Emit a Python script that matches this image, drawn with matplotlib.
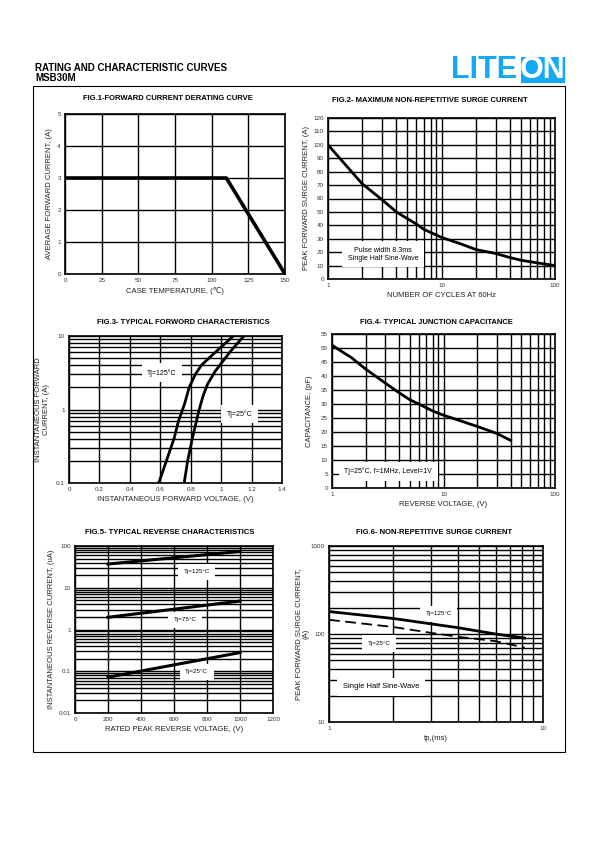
import numpy as np
import matplotlib.pyplot as plt
from matplotlib.patches import Rectangle
from matplotlib.ticker import NullFormatter, LogLocator

plt.rcParams['font.family'] = ['Liberation Sans', 'DejaVu Sans']

# Fig.1 derating
fig1_temp = [0, 110, 150]
fig1_current = [3.0, 3.0, 0.0]

# Fig.2 surge vs cycles
fig2_cycles = [1, 1.5, 2, 3, 4, 5, 6, 7, 10, 15, 20, 30, 40, 50, 70, 100]
fig2_current = [100, 83, 71, 59, 50, 45, 41, 37, 31, 26, 22, 19, 16, 14, 12, 10]

# Fig.3 forward characteristics
fig3_v125 = [0.59, 0.64, 0.69, 0.72, 0.76, 0.79, 0.83, 0.87, 0.92, 0.98, 1.08]
fig3_i125 = [0.1, 0.2, 0.4, 0.7, 1.2, 2.0, 3.0, 4.0, 5.0, 6.5, 10.0]
fig3_v25 = [0.757, 0.78, 0.81, 0.85, 0.88, 0.91, 0.96, 1.01, 1.07, 1.15]
fig3_i25 = [0.1, 0.2, 0.4, 0.9, 1.5, 2.2, 3.3, 4.5, 6.5, 10.0]

# Fig.4 junction capacitance
fig4_v = [1, 1.5, 2, 3, 4, 5, 6, 8, 10, 13, 20, 30, 40]
fig4_c = [51, 46.5, 42.5, 37.5, 34, 31.5, 30, 27.5, 26, 24.5, 22, 19.5, 17]

# Fig.5 reverse characteristics
fig5_v = [200, 1000]
fig5_i125 = [37, 74]
fig5_i75 = [1.96, 4.8]
fig5_i25 = [0.072, 0.28]

# Fig.6 non-repetitive surge current
fig6_tp = [1, 2, 4, 6, 8.2]
fig6_i125 = [180, 150, 118, 100, 90]
fig6_tp25 = [1, 2, 3, 4, 6, 8.2]
fig6_i25 = [145, 120, 103, 93, 83, 70]

W, H = 595, 842
fig = plt.figure(figsize=(W / 100, H / 100), dpi=100)


def px_axes(x0, y0, x1, y1):
    return fig.add_axes([x0 / W, 1 - y1 / H, (x1 - x0) / W, (y1 - y0) / H])


def ftext(x, y, s, **kw):
    fig.text(x / W, 1 - y / H, s, **kw)


def style(ax):
    ax.tick_params(which='both', length=0, labelsize=4.5, labelcolor='#333333', pad=3)
    for sp in ax.spines.values():
        sp.set_linewidth(1.2)
    ax.set_axisbelow(True)


def label(ax, x, y, s, fs=5):
    ax.text(x, y, s, fontsize=fs, ha='center', va='center', zorder=3,
            bbox=dict(facecolor='white', edgecolor='none', pad=4))


gkw = dict(color='black', linewidth=1.0)
lbl = dict(fontsize=5.5, color='#222222')

# header
ftext(35, 68, "RATING AND CHARACTERISTIC CURVES", fontsize=7, fontweight='bold', va='center')
ftext(35, 78, "MSB30M", fontsize=7, fontweight='bold', va='center')
fig.patches.append(Rectangle((521 / W, 1 - 83 / H), 44 / W, 26 / H, transform=fig.transFigure,
                             facecolor='#14a9f5', edgecolor='none'))
ftext(451, 70, "LITE", fontsize=22, fontweight='bold', color='#14a9f5', va='center')
ftext(543, 70, "ON", fontsize=22, fontweight='bold', color='white', va='center', ha='center')
fig.patches.append(Rectangle((33 / W, 1 - 752 / H), 532 / W, 666 / H, transform=fig.transFigure,
                             facecolor='none', edgecolor='black', linewidth=0.8))

# Fig.1
ax = px_axes(65, 114, 285, 274)
style(ax)
ax.plot(fig1_temp, fig1_current, color='black', linewidth=2.6, zorder=4)
ax.set_xlim(0, 150)
ax.set_ylim(0, 5)
ax.set_xticks([0, 25, 50, 75, 100, 125, 150])
ax.set_yticks([0, 1, 2, 3, 4, 5])
ax.grid(True, **gkw)
ax.set_xlabel("CASE TEMPERATURE, (℃)", labelpad=3, **lbl)
ax.set_ylabel("AVERAGE FORWARD CURRENT, (A)", **lbl)
ax.yaxis.set_label_coords(-0.055, 0.5)
ftext(168, 99, "FIG.1-FORWARD CURRENT DERATING CURVE", fontsize=5.5, fontweight='bold', ha='center', va='center')

# Fig.2
ax = px_axes(328, 118, 555, 279)
style(ax)
ax.plot(fig2_cycles, fig2_current, color='black', linewidth=2.0, zorder=4)
ax.set_xscale('log')
ax.set_xlim(1, 100)
ax.set_ylim(0, 120)
ax.set_xticks([1, 10, 100])
ax.set_xticklabels(['1', '10', '100'])
ax.xaxis.set_minor_locator(LogLocator(base=10, subs=np.arange(2, 10)))
ax.xaxis.set_minor_formatter(NullFormatter())
ax.set_yticks(range(0, 121, 10))
ax.grid(True, which='both', **gkw)
label(ax, 3.05, 18.6, "Pulse width 8.3ms\nSingle Half Sine-Wave")
ax.set_xlabel("NUMBER OF CYCLES AT 60Hz", labelpad=3, **lbl)
ax.set_ylabel("PEAK FORWARD SURGE CURRENT, (A)", **lbl)
ax.yaxis.set_label_coords(-0.079, 0.5)
ftext(430, 101, "FIG.2- MAXIMUM NON-REPETITIVE SURGE CURRENT", fontsize=5.5, fontweight='bold', ha='center', va='center')

# Fig.3
ax = px_axes(69, 336, 282, 483)
style(ax)
ax.plot(fig3_v125, fig3_i125, color='black', linewidth=2.0, zorder=4)
ax.plot(fig3_v25, fig3_i25, color='black', linewidth=2.0, zorder=4)
ax.set_yscale('log')
ax.set_xlim(0, 1.4)
ax.set_ylim(0.1, 10)
ax.set_xticks([0, 0.2, 0.4, 0.6, 0.8, 1, 1.2, 1.4])
ax.set_xticklabels(['0', '0.2', '0.4', '0.6', '0.8', '1', '1.2', '1.4'])
ax.set_yticks([0.1, 1, 10])
ax.set_yticklabels(['0.1', '1', '10'])
ax.yaxis.set_minor_locator(LogLocator(base=10, subs=np.arange(2, 10)))
ax.yaxis.set_minor_formatter(NullFormatter())
ax.grid(True, which='both', **gkw)
label(ax, 0.61, 3.16, "Tj=125°C")
label(ax, 1.12, 0.87, "Tj=25°C")
ax.set_xlabel("INSTANTANEOUS FORWARD VOLTAGE, (V)", labelpad=3, **lbl)
ax.set_ylabel("INSTANTANEOUS FORWARD\nCURRENT, (A)", **lbl)
ax.yaxis.set_label_coords(-0.089, 0.5)
ftext(183, 323, "FIG.3- TYPICAL FORWORD CHARACTERISTICS", fontsize=5.5, fontweight='bold', ha='center', va='center')

# Fig.4
ax = px_axes(332, 334, 555, 488)
style(ax)
ax.plot(fig4_v, fig4_c, color='black', linewidth=2.0, zorder=4)
ax.set_xscale('log')
ax.set_xlim(1, 100)
ax.set_ylim(0, 55)
ax.set_xticks([1, 10, 100])
ax.set_xticklabels(['1', '10', '100'])
ax.xaxis.set_minor_locator(LogLocator(base=10, subs=np.arange(2, 10)))
ax.xaxis.set_minor_formatter(NullFormatter())
ax.set_yticks(range(0, 56, 5))
ax.grid(True, which='both', **gkw)
label(ax, 3.2, 5.9, "Tj=25°C, f=1MHz, Level=1V")
ax.set_xlabel("REVERSE VOLTAGE, (V)", labelpad=3, **lbl)
ax.set_ylabel("CAPACITANCE, (pF)", **lbl)
ax.yaxis.set_label_coords(-0.085, 0.5)
ftext(436, 323, "FIG.4- TYPICAL JUNCTION CAPACITANCE", fontsize=5.5, fontweight='bold', ha='center', va='center')

# Fig.5
ax = px_axes(75, 546, 273, 713)
style(ax)
ax.plot(fig5_v, fig5_i125, color='black', linewidth=2.2, zorder=4)
ax.plot(fig5_v, fig5_i75, color='black', linewidth=2.2, zorder=4)
ax.plot(fig5_v, fig5_i25, color='black', linewidth=2.2, zorder=4)
ax.set_yscale('log')
ax.set_xlim(0, 1200)
ax.set_ylim(0.01, 100)
ax.set_xticks([0, 200, 400, 600, 800, 1000, 1200])
ax.set_yticks([0.01, 0.1, 1, 10, 100])
ax.set_yticklabels(['0.01', '0.1', '1', '10', '100'])
ax.yaxis.set_minor_locator(LogLocator(base=10, subs=np.arange(2, 10)))
ax.yaxis.set_minor_formatter(NullFormatter())
ax.grid(True, which='both', **gkw)
label(ax, 737, 24, "Tj=125°C", fs=4.5)
label(ax, 667, 1.69, "Tj=75°C", fs=4.5)
label(ax, 737, 0.098, "Tj=25°C", fs=4.5)
ax.set_xlabel("RATED PEAK REVERSE VOLTAGE, (V)", labelpad=3, **lbl)
ax.set_ylabel("INSTANTANEOUS REVERSE CURRENT, (uA)", **lbl)
ax.yaxis.set_label_coords(-0.101, 0.5)
ftext(170, 533, "FIG.5- TYPICAL REVERSE CHARACTERISTICS", fontsize=5.5, fontweight='bold', ha='center', va='center')

# Fig.6
ax = px_axes(329, 546, 543, 722)
style(ax)
ax.plot(fig6_tp, fig6_i125, color='black', linewidth=2.0, zorder=4)
ax.plot(fig6_tp25, fig6_i25, color='black', linewidth=1.3, linestyle=(0, (6, 3)), zorder=4)
ax.set_xscale('log')
ax.set_yscale('log')
ax.set_xlim(1, 10)
ax.set_ylim(10, 1000)
ax.set_xticks([1, 10])
ax.set_xticklabels(['1', '10'])
ax.set_yticks([10, 100, 1000])
ax.set_yticklabels(['10', '100', '1000'])
for a in (ax.xaxis, ax.yaxis):
    a.set_minor_locator(LogLocator(base=10, subs=np.arange(2, 10)))
    a.set_minor_formatter(NullFormatter())
ax.grid(True, which='both', **gkw)
label(ax, 3.25, 170, "Tj=125°C", fs=4.5)
label(ax, 1.72, 78, "Tj=25°C", fs=4.5)
label(ax, 1.75, 25, "Single Half Sine-Wave", fs=5.5)
ax.set_xlabel("tp,(ms)", labelpad=3, **lbl)
ax.set_ylabel("PEAK FORWARD SURGE CURRENT,\n(A)", **lbl)
ax.yaxis.set_label_coords(-0.089, 0.5)
ftext(434, 533, "FIG.6- NON-REPETITIVE SURGE CURRENT", fontsize=5.5, fontweight='bold', ha='center', va='center')

fig.savefig("out.png", dpi=100)
